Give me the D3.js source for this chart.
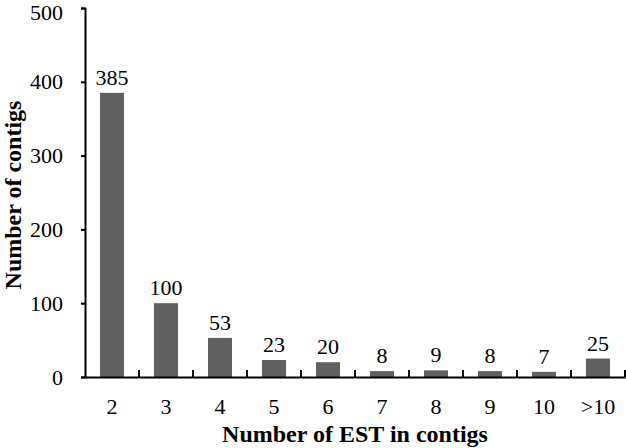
<!DOCTYPE html>
<html>
<head>
<meta charset="utf-8">
<script src="https://cdn.jsdelivr.net/npm/d3@7"></script>
<style>
body{margin:0;background:#fff}
text{font-family:"Liberation Serif","Times New Roman",serif}
</style>
</head>
<body>
<div id="chart"></div>
<script>
var categories = ["2","3","4","5","6","7","8","9","10",">10"]
var counts = [385,100,53,23,20,8,9,8,7,25]
var yTicks = [0,100,200,300,400,500]

var width = 626
var height = 448
var plotLeft = 85, plotRight = 625, plotTop = 8, plotBottom = 377

var svg = d3.select("#chart").append("svg")
	.attr("width",width)
	.attr("height",height)

var xScale = d3.scaleBand().domain(categories).range([plotLeft,plotRight]).paddingInner(0.555).paddingOuter(0.2775)
var xBand = d3.scaleBand().domain(categories).range([plotLeft,plotRight])
var yScale = d3.scaleLinear().domain([0,500]).range([plotBottom,plotTop])

// bars
svg.selectAll(".bars")
	.data(counts)
	.enter()
	.append("rect")
	.attr("x",function(d,i){return xScale(categories[i])})
	.attr("y",function(d){return yScale(d)})
	.attr("width",xScale.bandwidth())
	.attr("height",function(d){return plotBottom-yScale(d)})
	.attr("fill","#606060")

// value labels
svg.selectAll(".vals")
	.data(counts)
	.enter()
	.append("text")
	.text(function(d){return d})
	.attr("x",function(d,i){return xScale(categories[i])+xScale.bandwidth()/2})
	.attr("y",function(d){return yScale(d)-8})
	.attr("text-anchor","middle")
	.attr("font-size","22px")
	.attr("fill","#000")

// y axis
var yAxis = d3.axisLeft(yScale).tickValues(yTicks).tickSize(4).tickPadding(18)
var yG = svg.append("g").attr("transform","translate("+plotLeft+",0)").call(yAxis)
yG.select(".domain").attr("stroke","#000").attr("stroke-width",2)
yG.selectAll(".tick line").attr("stroke-width",2)
yG.selectAll("text").attr("font-size","22px").attr("font-family","Liberation Serif").attr("fill","#000")
yG.selectAll(".tick").filter(function(d){return d==500}).select("text").attr("dy","0.5em")

// x axis: boundary ticks pointing up
var xAxis = d3.axisBottom(xBand).tickSize(0).tickPadding(21)
var xG = svg.append("g").attr("transform","translate(0,"+plotBottom+")").call(xAxis)
xG.select(".domain").attr("stroke","#000").attr("stroke-width",2)
xG.selectAll("text").attr("font-size","22px").attr("font-family","Liberation Serif").attr("fill","#000")

var bounds = categories.map(function(c){return xBand(c)+xBand.bandwidth()})
svg.selectAll(".xtick")
	.data(bounds)
	.enter()
	.append("line")
	.attr("x1",function(d){return d}).attr("x2",function(d){return d})
	.attr("y1",plotBottom).attr("y2",plotBottom-7)
	.attr("stroke","#000").attr("stroke-width",2)

// axis titles
svg.append("text").text("Number of EST in contigs")
	.attr("x",(plotLeft+plotRight)/2).attr("y",442)
	.attr("text-anchor","middle").attr("font-size","24px").attr("font-weight","bold")

svg.append("text").text("Number of contigs")
	.attr("transform","translate(21,195) rotate(-90)")
	.attr("text-anchor","middle").attr("font-size","24px").attr("font-weight","bold")
</script>
</body>
</html>
